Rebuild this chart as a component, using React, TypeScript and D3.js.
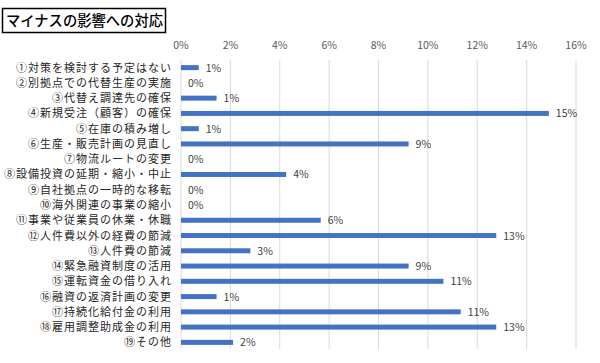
import React from 'react';
import * as d3 from 'd3';

const categories = [
  '①対策を検討する予定はない',
  '②別拠点での代替生産の実施',
  '③代替え調達先の確保',
  '④新規受注（顧客）の確保',
  '⑤在庫の積み増し',
  '⑥生産・販売計画の見直し',
  '⑦物流ルートの変更',
  '⑧設備投資の延期・縮小・中止',
  '⑨自社拠点の一時的な移転',
  '⑩海外関連の事業の縮小',
  '⑪事業や従業員の休業・休職',
  '⑫人件費以外の経費の節減',
  '⑬人件費の節減',
  '⑭緊急融資制度の活用',
  '⑮運転資金の借り入れ',
  '⑯融資の返済計画の変更',
  '⑰持続化給付金の利用',
  '⑱雇用調整助成金の利用',
  '⑲その他',
];

const values = [
  0.72, 0, 1.44, 14.9, 0.72, 9.22, 0, 4.26, 0, 0,
  5.66, 12.77, 2.81, 9.22, 10.63, 1.44, 11.33, 12.77, 2.11,
];

const ticks = [0, 2, 4, 6, 8, 10, 12, 14, 16];

const font = '"Noto Sans CJK JP", sans-serif';

export default function App() {
  const width = 600;
  const height = 363;

  const x = d3.scaleLinear().domain([0, 16]).range([181, 576]);
  const y = d3.scaleBand<string>()
    .domain(categories)
    .range([60, 350]);
  const barH = 5;

  return (
    <svg width={width} height={height} style={{ position: 'absolute', left: 0, top: 0 }}>
      <rect x={0} y={0} width={width} height={height} fill="#fff" />
      <rect x={2.5} y={8.5} width={163} height={24} fill="#fff" stroke="#000" strokeWidth={1.5} />
      <text x={6} y={26} fontFamily={font} fontSize={14.3} fontWeight={500} fill="#000">
        マイナスの影響への対応
      </text>

      {ticks.map(t => (
        <g key={t}>
          <line x1={x(t)} x2={x(t)} y1={60} y2={349} stroke="#d9d9d9" strokeWidth={1} />
          <text x={x(t)} y={49} textAnchor="middle" fontFamily={font} fontSize={10.5} fill="#595959">
            {t}%
          </text>
        </g>
      ))}

      {categories.map((c, i) => {
        const cy = (y(c) ?? 0) + y.bandwidth() / 2;
        const v = values[i];
        return (
          <g key={c}>
            <text x={172} y={cy + 4} textAnchor="end" fontFamily={font} fontSize={11} letterSpacing={1}
              fill="#262626">
              {c}
            </text>
            {v > 0 && (
              <rect x={x(0)} y={cy - barH / 2} width={x(v) - x(0)} height={barH} fill="#4472C4" />
            )}
            <text x={x(v) + 7} y={cy + 4} fontFamily={font} fontSize={10.5} fill="#404040">
              {Math.round(v)}%
            </text>
          </g>
        );
      })}
    </svg>
  );
}
